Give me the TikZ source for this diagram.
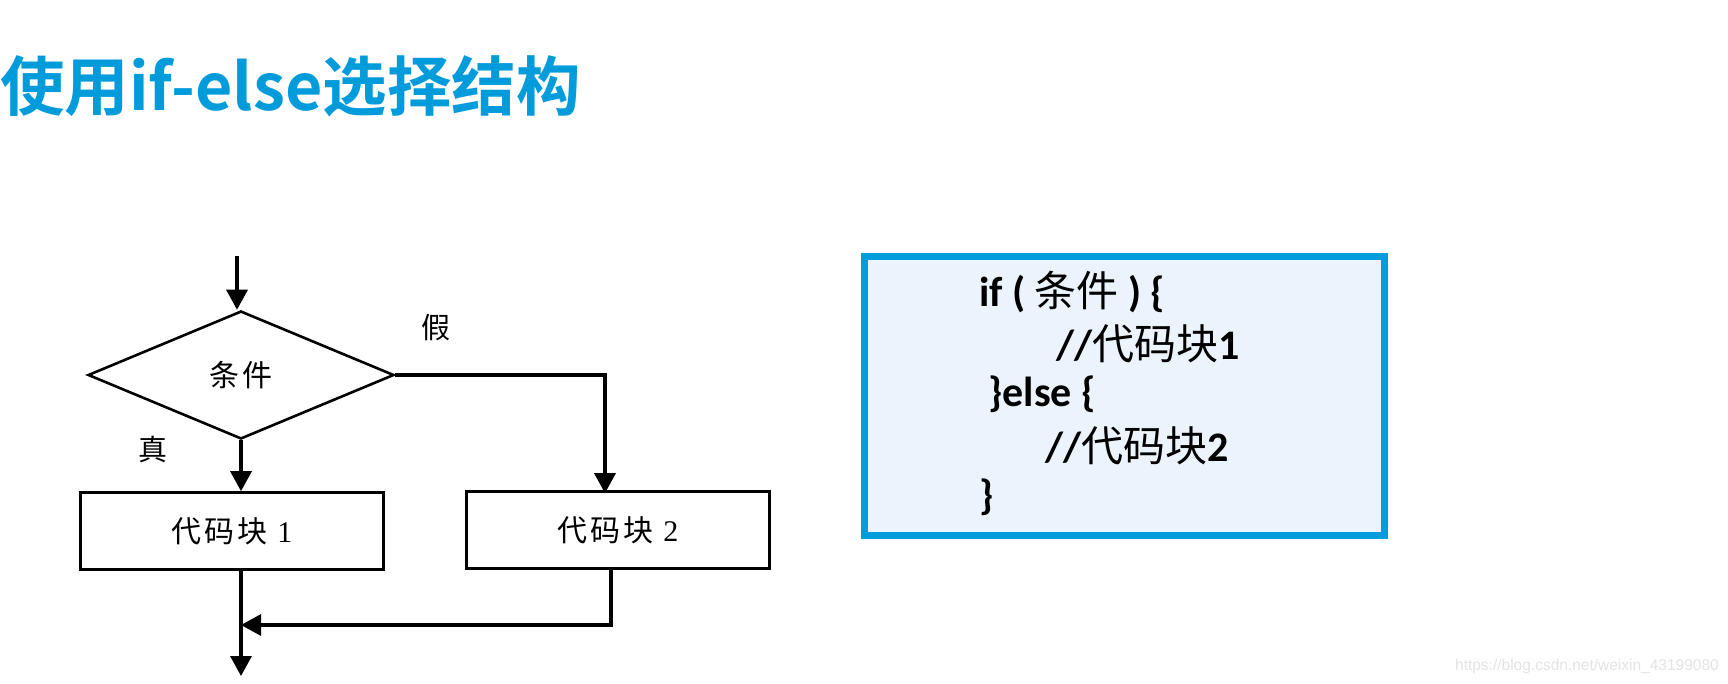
\documentclass[tikz,border=0pt]{standalone}
\usepackage{fontspec}
\usetikzlibrary{shapes.geometric,arrows.meta}
\newfontfamily\cjk{Noto Sans CJK SC}
\newfontfamily\cjkflow{Noto Sans CJK SC}[LetterSpace=10]
\newfontfamily\cjkb{Noto Sans CJK SC Bold}
\newfontfamily\codefont{Carlito}
\newfontfamily\serifnum{Liberation Serif}
\newfontfamily\wmfont{Liberation Sans}
\definecolor{titleblue}{HTML}{009BDB}
\definecolor{boxblue}{HTML}{009CDC}
\definecolor{boxfill}{HTML}{EBF4FC}
\definecolor{wmgray}{HTML}{E4E4E4}
\tikzset{
  flowarrow/.style={line width=3.2pt,-{Triangle[length=20pt,width=21pt]}},
  shapeline/.style={draw,line width=2.6pt},
  codeline/.style={anchor=west,inner sep=0pt,font=\codefont\bfseries\fontsize{42}{48}\selectfont},
  flowtext/.style={font=\cjkflow\fontsize{30}{33}\selectfont},
  labeltext/.style={font=\cjk\fontsize{29}{32}\selectfont}
}
\begin{document}
\begin{tikzpicture}[x=1pt,y=-1pt]
\useasboundingbox (0,0) rectangle (1728,683);
\fill[white] (0,0) rectangle (1728,683);
% title
\node[anchor=west,inner sep=0pt,text=titleblue,font=\cjkb\fontsize{64.5}{68}\selectfont] (title) at (0,86) {使用if-else选择结构};
% flowchart
\coordinate (start) at (237,256);
\node[diamond,shapeline,aspect=2.39,minimum width=306pt,minimum height=128pt,inner sep=0pt,flowtext] (cond) at (241,375) {条件};
\node[rectangle,shapeline,minimum width=303pt,minimum height=77pt,inner sep=0pt,flowtext] (b1) at (232,531) {代码块 {\serifnum 1}};
\node[rectangle,shapeline,minimum width=303pt,minimum height=77pt,inner sep=0pt,flowtext] (b2) at (618,530) {代码块 {\serifnum 2}};
\node[labeltext] (f) at (436,328) {假};
\node[labeltext] (t) at (153,449) {真};
\coordinate (fr) at (605,375);
\coordinate (b2d) at (611,625);
\coordinate (j) at (241,625);
\coordinate (endp) at (241,676);
\draw[flowarrow] (start) -- (start |- cond.north);
\draw[flowarrow] (cond.south) -- (b1.north -| cond.south);
\draw[flowarrow] (cond.east) -- (fr) -- ([yshift=-3pt]fr |- b2.north);
\draw[flowarrow] (b1.south -| j) -- (endp);
\draw[flowarrow] (b2.south -| b2d) -- (b2d) -- (j);
% code box
\node[draw=boxblue,line width=7pt,fill=boxfill,minimum width=520pt,minimum height=279pt,inner sep=0pt] (code) at (1124,395.5) {};
\node[codeline] (l1) at (979,292) {if ( {\cjk\mdseries 条件} ) \{};
\node[codeline] (l2) at (1056,344) {//{\cjk\mdseries 代码块}1};
\node[codeline] (l3) at (988,394) {\}else \{};
\node[codeline] (l4) at (1045,446) {//{\cjk\mdseries 代码块}2};
\node[codeline] (l5) at (979,497) {\}};
% watermark
\node[anchor=east,inner sep=0pt,text=wmgray,font=\wmfont\fontsize{15.5}{18}\selectfont] (wm) at (1719,666) {https://blog.csdn.net/weixin\_43199080};
\end{tikzpicture}
\end{document}
